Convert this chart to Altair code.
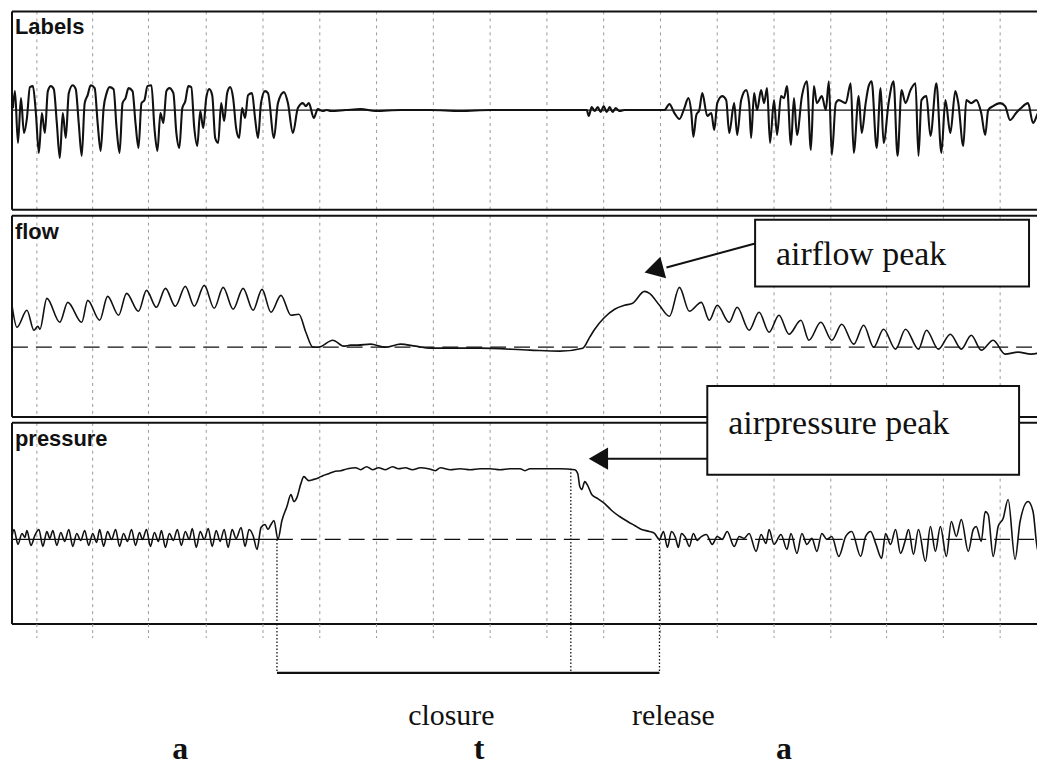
import altair as alt
import pandas as pd

# ---------------- data (time in samples from the left frame edge, amplitude relative to each trace's rest line) ---------------
labels_trace = [
    (1, 2), (3, 19), (6, -33), (9, 12), (12, -23), (15, -8), (18, 23), (21, 24), (24, -3), (27, -43), (30, -3),
    (33, -23), (36, 19), (39, 24), (42, 21), (45, -13), (48, -48), (51, -3), (54, -28), (57, 17), (61, 25),
    (64, 21), (67, -13), (70, -46), (73, 7), (76, 15), (79, 25), (83, 22), (86, -13), (89, -41), (92, 2),
    (95, 17), (98, 23), (102, 21), (105, -18), (108, -43), (111, 7), (114, 12), (117, 22), (121, 19), (124, -13),
    (127, -38), (130, 7), (133, 10), (136, 24), (140, 25), (143, -18), (146, -41), (149, -3), (152, -13),
    (155, 19), (158, 22), (162, 17), (165, -23), (168, -38), (171, 2), (174, 9), (177, 24), (180, 23),
    (183, -18), (186, -36), (189, -1), (192, -18), (195, 12), (198, 21), (201, 15), (204, -28), (207, -33),
    (210, 7), (213, -11), (216, 17), (219, 23), (222, 12), (225, -18), (228, -28), (231, 2), (234, -8),
    (237, 15), (241, 17), (244, -8), (247, -28), (250, 7), (254, 19), (257, 17), (263, -28), (267, 7),
    (273, 18), (277, 7), (282, -23), (287, 2), (292, 7), (295, 4), (298, 7), (303, -8), (307, 1), (312, -1),
    (316, 0), (320, -1), (335, 0), (350, 1), (365, -1), (390, 0), (420, 0), (450, -1), (480, 0), (510, 0),
    (550, 0), (577, 0), (579, -6), (582, 3), (585, -1), (588, 3), (591, -2), (594, 4), (597, -2), (600, 3),
    (603, -2), (606, 2), (610, -1), (615, 0), (627, 0), (655, 0), (660, 6), (665, -3), (670, -9), (675, 2),
    (679, 12), (682, -3), (684, -27), (687, -5), (690, 0), (693, 17), (698, -6), (702, -3), (705, -20),
    (708, 7), (713, 14), (717, 10), (720, -23), (725, 7), (728, -25), (732, 10), (737, 20), (740, 7),
    (742, -28), (745, 17), (748, 0), (752, 20), (755, 7), (758, 22), (761, -33), (765, 10), (768, -25),
    (772, 14), (775, 12), (778, 24), (782, -35), (785, 12), (788, -25), (793, 14), (798, 29), (802, -40),
    (805, 24), (808, 7), (813, 14), (817, 0), (820, 29), (823, -45), (827, 7), (830, 10), (837, 7), (842, 27),
    (845, -43), (850, 14), (853, -23), (857, 7), (860, 24), (863, 29), (868, -38), (872, 22), (875, -33),
    (880, 7), (885, 29), (889, -46), (893, 20), (897, 7), (902, 20), (907, 27), (910, -46), (913, 10),
    (918, 14), (922, -26), (928, 27), (933, -43), (937, 10), (942, -23), (947, 19), (950, 7), (955, -36),
    (958, 10), (963, 7), (968, 10), (973, -3), (977, -25), (980, 0), (985, 4), (992, 7), (997, 4),
    (1002, -10), (1008, -3), (1013, 2), (1020, 7), (1025, -13), (1030, -3), (1037, 4),
]

flow_trace = [
    (0, 42), (5, 20), (15, 37), (22, 17), (26, 21), (28, 18), (35, 49), (48, 25), (56, 45), (70, 25), (76, 47),
    (88, 27), (96, 51), (107, 32), (115, 54), (127, 36), (135, 57), (145, 40), (154, 59), (164, 41), (174, 61),
    (183, 41), (193, 62), (203, 39), (212, 60), (222, 38), (232, 59), (242, 37), (251, 58), (260, 35),
    (270, 52), (280, 32), (288, 33), (295, 15), (302, 0), (308, 0), (322, 7), (333, 1), (340, 2), (347, 2),
    (360, 3), (375, 0), (390, 3), (405, 1), (420, -1), (470, -1), (520, -3), (550, -4), (573, -1), (580, 10),
    (585, 18), (594, 29), (605, 38), (615, 42), (623, 44), (635, 56), (640, 54), (650, 42), (660, 31),
    (670, 60), (680, 36), (692, 45), (700, 27), (708, 42), (720, 25), (728, 40), (740, 17), (750, 35),
    (760, 15), (770, 32), (780, 13), (792, 27), (800, 7), (812, 25), (823, 7), (833, 23), (845, 3),
    (855, 22), (865, 0), (875, 18), (887, -2), (897, 18), (910, -2), (918, 17), (930, -2), (942, 13),
    (953, -2), (963, 12), (973, -3), (985, 7), (997, -7), (1010, -5), (1023, -7), (1037, -4),
]

pressure_trace = [
    (0, 3), (2, 10), (6, -5), (10, 6), (13, 2), (15, 9), (19, -6), (23, 4), (27, 10), (31, -7), (35, 8),
    (38, 1), (41, 9), (45, -6), (49, 7), (53, -2), (57, 10), (61, -7), (65, 6), (69, -1), (73, 9), (77, -6),
    (81, 6), (85, -3), (88, 10), (92, -7), (96, 8), (100, 0), (104, 10), (108, -7), (112, 6), (116, -2),
    (120, 10), (124, -6), (128, 7), (131, 0), (135, 10), (139, -7), (143, 7), (147, -2), (150, 9), (154, -8),
    (158, 6), (162, -1), (166, 10), (170, -6), (174, 8), (178, 0), (181, 11), (185, -8), (189, 8), (193, 0),
    (197, 11), (201, -7), (205, 9), (209, -2), (213, 10), (217, -8), (221, 10), (225, 1), (230, 12),
    (234, -7), (238, 10), (242, 4), (246, -10), (250, 12), (254, 15), (257, 10), (260, 15), (263, 19),
    (267, 0), (271, 19), (276, 33), (280, 45), (283, 38), (286, 42), (290, 56), (293, 63), (298, 59),
    (302, 60), (308, 62), (312, 64), (318, 66), (323, 68), (330, 69), (337, 71), (345, 72), (350, 70),
    (356, 73), (362, 70), (368, 72), (375, 70), (382, 73), (388, 71), (395, 72), (402, 70), (410, 72),
    (418, 71), (425, 69), (430, 72), (440, 70), (450, 71), (460, 70), (470, 71), (480, 71), (490, 70),
    (500, 71), (510, 71), (515, 69), (520, 71), (550, 71), (565, 70), (568, 66), (570, 53), (572, 50),
    (575, 58), (578, 54), (582, 45), (588, 41), (595, 36), (602, 29), (610, 23), (618, 18), (625, 14),
    (632, 10), (640, 8), (645, 6), (650, 0), (654, 8), (658, -8), (662, 8), (666, 2), (669, -8), (672, 6),
    (676, 2), (680, -7), (684, 6), (688, -1), (690, 1), (697, 5), (703, -5), (708, 3), (713, 0), (718, 8),
    (725, -7), (730, 3), (735, 1), (740, 6), (747, -12), (752, 5), (757, -4), (760, 10), (765, -5), (772, 5),
    (778, -10), (782, 6), (788, -14), (793, 6), (798, -5), (803, 1), (808, -12), (813, 6), (818, 0), (823, 3),
    (830, -17), (837, 3), (843, 8), (852, -17), (857, 3), (862, 8), (867, -4), (873, -19), (877, 6),
    (882, -5), (887, 10), (892, -14), (897, 0), (900, 10), (905, -15), (910, 10), (917, -22), (922, 13),
    (927, -12), (932, 13), (938, -17), (943, 18), (948, 3), (953, 20), (960, -12), (965, 10), (968, 13),
    (973, -2), (977, 28), (980, 25), (985, -17), (990, 13), (995, 21), (1000, 40), (1007, -20), (1012, 18),
    (1020, 38), (1025, 28), (1030, -12), (1037, 21),
]

grid_t = [25, 81, 137, 195, 252, 309, 366, 423, 480, 537, 594, 651, 708, 765, 822, 878, 935, 992]

closure_t = 266      # start of oral closure
peak_t = 561         # end of pressure plateau (airpressure peak)
release_t = 650      # release
plateau_level = 71

panel_names = ["Labels", "flow", "pressure"]
segment_labels = ["a", "t", "a"]
segment_t = [169, 469, 775]
phase_labels = ["closure", "release"]
phase_t = [441, 664]

# ---------------- layout / style ---------------
W = 1029
GAP = 6
H1, H2, H3, H4 = 199, 202, 202, 135
DOM1, DOM2, DOM3 = [-100, 99], [-70, 132], [-85, 117]
INK = "#111111"
GRID = "#9a9a9a"
SANS = "Liberation Sans"
SERIF = "Liberation Serif"

one = pd.DataFrame({"k": [0]})


def xs(field="t"):
    return alt.X(f"{field}:Q", scale=alt.Scale(domain=[0, W], nice=False, zero=False), axis=None)


def ys(field, dom):
    return alt.Y(f"{field}:Q", scale=alt.Scale(domain=dom, nice=False, zero=False), axis=None)


def trace_df(pairs):
    return pd.DataFrame(pairs, columns=["t", "v"])


grid_df = pd.DataFrame({"t": grid_t})


def frame(h, title):
    grid = alt.Chart(grid_df).mark_rule(color=GRID, strokeDash=[3, 4], strokeWidth=1).encode(
        x=xs(), y=alt.value(0), y2=alt.value(h))
    top = alt.Chart(one).mark_rule(color=INK, strokeWidth=2).encode(
        x=alt.value(0), x2=alt.value(W), y=alt.value(0))
    bottom = alt.Chart(one).mark_rule(color=INK, strokeWidth=2).encode(
        x=alt.value(0), x2=alt.value(W), y=alt.value(h))
    left = alt.Chart(one).mark_rule(color=INK, strokeWidth=2).encode(
        x=alt.value(0), y=alt.value(0), y2=alt.value(h))
    label = alt.Chart(one).mark_text(align="left", baseline="alphabetic", font=SANS, fontWeight="bold",
                                     fontSize=22, color=INK).encode(
        x=alt.value(3), y=alt.value(23), text=alt.value(title))
    return [grid, top, bottom, left, label]


def baseline(t0, t1, dom, dash=None):
    df = pd.DataFrame({"t0": [t0], "t1": [t1], "v": [0]})
    kw = dict(color=INK, strokeWidth=1.4)
    if dash:
        kw["strokeDash"] = dash
    return alt.Chart(df).mark_rule(**kw).encode(x=xs("t0"), x2="t1:Q", y=ys("v", dom))


def trace(pairs, dom, width):
    return alt.Chart(trace_df(pairs)).mark_line(color=INK, strokeWidth=width, interpolate="monotone",
                                                clip=True).encode(x=xs(), y=ys("v", dom))


def callout(dom, box, text_pos, text, line, head, head_angle):
    bdf = pd.DataFrame({"t0": [box[0]], "t1": [box[1]], "v0": [box[2]], "v1": [box[3]]})
    rect = alt.Chart(bdf).mark_rect(fill="white", stroke=INK, strokeWidth=2).encode(
        x=xs("t0"), x2="t1:Q", y=ys("v0", dom), y2="v1:Q")
    tdf = pd.DataFrame({"t": [text_pos[0]], "v": [text_pos[1]], "s": [text]})
    txt = alt.Chart(tdf).mark_text(align="left", baseline="alphabetic", font=SERIF, fontSize=34,
                                   color=INK).encode(x=xs(), y=ys("v", dom), text="s:N")
    ldf = pd.DataFrame({"t0": [line[0]], "t1": [line[1]], "v0": [line[2]], "v1": [line[3]]})
    ln = alt.Chart(ldf).mark_rule(color=INK, strokeWidth=2).encode(
        x=xs("t0"), x2="t1:Q", y=ys("v0", dom), y2="v1:Q")
    hdf = pd.DataFrame({"t": [head[0]], "v": [head[1]]})
    hd = alt.Chart(hdf).mark_point(shape="triangle-left", filled=True, size=500, angle=head_angle,
                                   color=INK, opacity=1).encode(x=xs(), y=ys("v", dom))
    return [ln, hd, rect, txt]


# ---- panel 1: Labels
p1 = alt.layer(
    *frame(H1, panel_names[0]),
    baseline(0, W, DOM1),
    trace(labels_trace, DOM1, 2.1),
).properties(width=W, height=H1)

# ---- panel 2: flow
p2 = alt.layer(
    *frame(H2, panel_names[1]),
    baseline(0, W, DOM2, dash=[16, 8]),
    trace(flow_trace, DOM2, 1.6),
    *callout(DOM2, (746, 1021, 128, 61), (767, 82), "airflow peak",
             (746, 657, 104, 80), (644.4, 77.5), 345),
).properties(width=W, height=H2)

# ---- panel 3: pressure
ev_df = pd.DataFrame({"t": [closure_t, peak_t, release_t], "v": [0, plateau_level, 0], "lo": [DOM3[0]] * 3})
ev_rules = alt.Chart(ev_df).mark_rule(color=INK, strokeDash=[1.5, 2], strokeWidth=1.3).encode(
    x=xs(), y=ys("v", DOM3), y2="lo:Q")
p3 = alt.layer(
    *frame(H3, panel_names[2]),
    baseline(0, closure_t, DOM3),
    baseline(closure_t, W, DOM3, dash=[16, 8]),
    ev_rules,
    trace(pressure_trace, DOM3, 1.6),
    *callout(DOM3, (698, 1011, 154, 65), (719, 106), "airpressure peak",
             (597, 698, 81, 81), (588.7, 81), 0),
).properties(width=W, height=H3)

# ---- bottom annotation strip (drawn from the pressure frame's lower edge, GAP px above its own top)
stubs = alt.Chart(grid_df).mark_rule(color=GRID, strokeDash=[3, 3], strokeWidth=1).encode(
    x=xs(), y=alt.value(-GAP), y2=alt.value(8))
ev2 = alt.Chart(pd.DataFrame({"t": [closure_t, peak_t, release_t]})).mark_rule(
    color=INK, strokeDash=[1.5, 2], strokeWidth=1.3).encode(x=xs(), y=alt.value(-GAP), y2=alt.value(43))
bracket = alt.Chart(pd.DataFrame({"t0": [closure_t], "t1": [release_t]})).mark_rule(
    color=INK, strokeWidth=2.2).encode(x=xs("t0"), x2="t1:Q", y=alt.value(43))
phases = alt.Chart(pd.DataFrame({"t": phase_t, "s": phase_labels})).mark_text(
    font=SERIF, fontSize=30, color=INK, baseline="middle", align="center").encode(
    x=xs(), y=alt.value(86), text="s:N")
segs = alt.Chart(pd.DataFrame({"t": segment_t, "s": segment_labels})).mark_text(
    font=SERIF, fontSize=32, fontWeight="bold", color=INK, baseline="alphabetic", align="center").encode(
    x=xs(), y=alt.value(129), text="s:N")
p4 = alt.layer(stubs, ev2, bracket, phases, segs).properties(width=W, height=H4)

chart = alt.vconcat(p1, p2, p3, p4, spacing=GAP, bounds="flush").properties(
    padding={"left": 2, "top": 0, "right": 0, "bottom": 0},
    background="white",
).configure_view(stroke="transparent")

chart.save("out.html", embed_options={"renderer": "svg", "actions": False})
